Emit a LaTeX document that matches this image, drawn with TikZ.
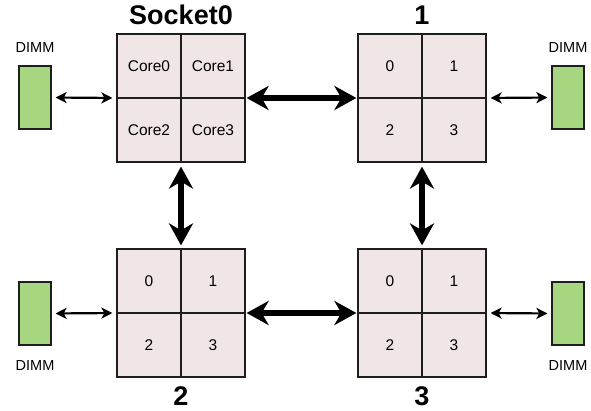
\documentclass[tikz,border=0pt]{standalone}
\usepackage{fontspec}
\setmainfont{Liberation Sans}
\usetikzlibrary{arrows.meta}
\definecolor{cellpink}{RGB}{240,230,230}
\definecolor{dimmgreen}{RGB}{166,214,128}
\definecolor{edge}{RGB}{30,30,30}
\begin{document}
\begin{tikzpicture}[x=1pt,y=-1pt,
  socket/.style={draw=edge, fill=cellpink, line width=1.2pt, minimum size=128pt, inner sep=0pt},
  cell/.style={draw=edge, line width=1.2pt, minimum size=64pt, inner sep=0pt,
    font=\fontsize{15.5}{18}\selectfont},
  dimm/.style={draw=edge, fill=dimmgreen, line width=1.2pt, minimum width=32pt,
    minimum height=63pt, inner sep=0pt},
  dimmlabel/.style={font=\fontsize{14.5}{17}\selectfont, inner sep=0pt},
  socklabel/.style={font=\bfseries\fontsize{27}{30}\selectfont, inner sep=0pt},
  memlink/.style={line width=2.2pt, {Stealth[length=11pt,width=11pt,inset=3pt]}-{Stealth[length=11pt,width=11pt,inset=3pt]},
    shorten <=4pt, shorten >=4pt},
  qpilink/.style={line width=5.5pt, {Stealth[length=22pt,width=24pt,inset=7pt]}-{Stealth[length=22pt,width=24pt,inset=7pt]}}
]
\useasboundingbox (0,0) rectangle (591,411);

% sockets with their four cores
\foreach \s/\x/\y in {0/181/98, 1/422/98, 2/181/313, 3/422/313} {
  \node[socket] (s\s) at (\x,\y) {};
}
\node[cell] (s0c0) at (149,66)  {Core0};
\node[cell] (s0c1) at (213,66)  {Core1};
\node[cell] (s0c2) at (149,130) {Core2};
\node[cell] (s0c3) at (213,130) {Core3};
\foreach \s/\x/\y in {1/422/98, 2/181/313, 3/422/313} {
  \node[cell] (s\s c0) at (\x-32,\y-32) {0};
  \node[cell] (s\s c1) at (\x+32,\y-32) {1};
  \node[cell] (s\s c2) at (\x-32,\y+32) {2};
  \node[cell] (s\s c3) at (\x+32,\y+32) {3};
}

% socket titles
\node[socklabel] (t0) at (181,14.5) {Socket0};
\node[socklabel] (t1) at (422,15) {1};
\node[socklabel] (t2) at (181,396) {2};
\node[socklabel] (t3) at (422,396) {3};

% memory modules
\node[dimm] (d0) at (35,97.5)  {};
\node[dimm] (d1) at (568,97.5) {};
\node[dimm] (d2) at (35,313.5) {};
\node[dimm] (d3) at (568,313.5) {};
\node[dimmlabel] (l0) at (35,48)  {DIMM};
\node[dimmlabel] (l1) at (568,48) {DIMM};
\node[dimmlabel] (l2) at (35,366) {DIMM};
\node[dimmlabel] (l3) at (568,366) {DIMM};

% memory links
\draw[memlink] (d0.east) -- (s0.west);
\draw[memlink] (s1.east) -- (d1.west);
\draw[memlink] (d2.east) -- (s2.west);
\draw[memlink] (s3.east) -- (d3.west);

% socket interconnect
\draw[qpilink, shorten <=1pt, shorten >=1pt] (s0.east) -- (s1.west);
\draw[qpilink, shorten <=1pt, shorten >=1pt] (s2.east) -- (s3.west);
\draw[qpilink, shorten <=4pt, shorten >=3pt] (s0.south) -- (s2.north);
\draw[qpilink, shorten <=4pt, shorten >=3pt] (s1.south) -- (s3.north);
\end{tikzpicture}
\end{document}
